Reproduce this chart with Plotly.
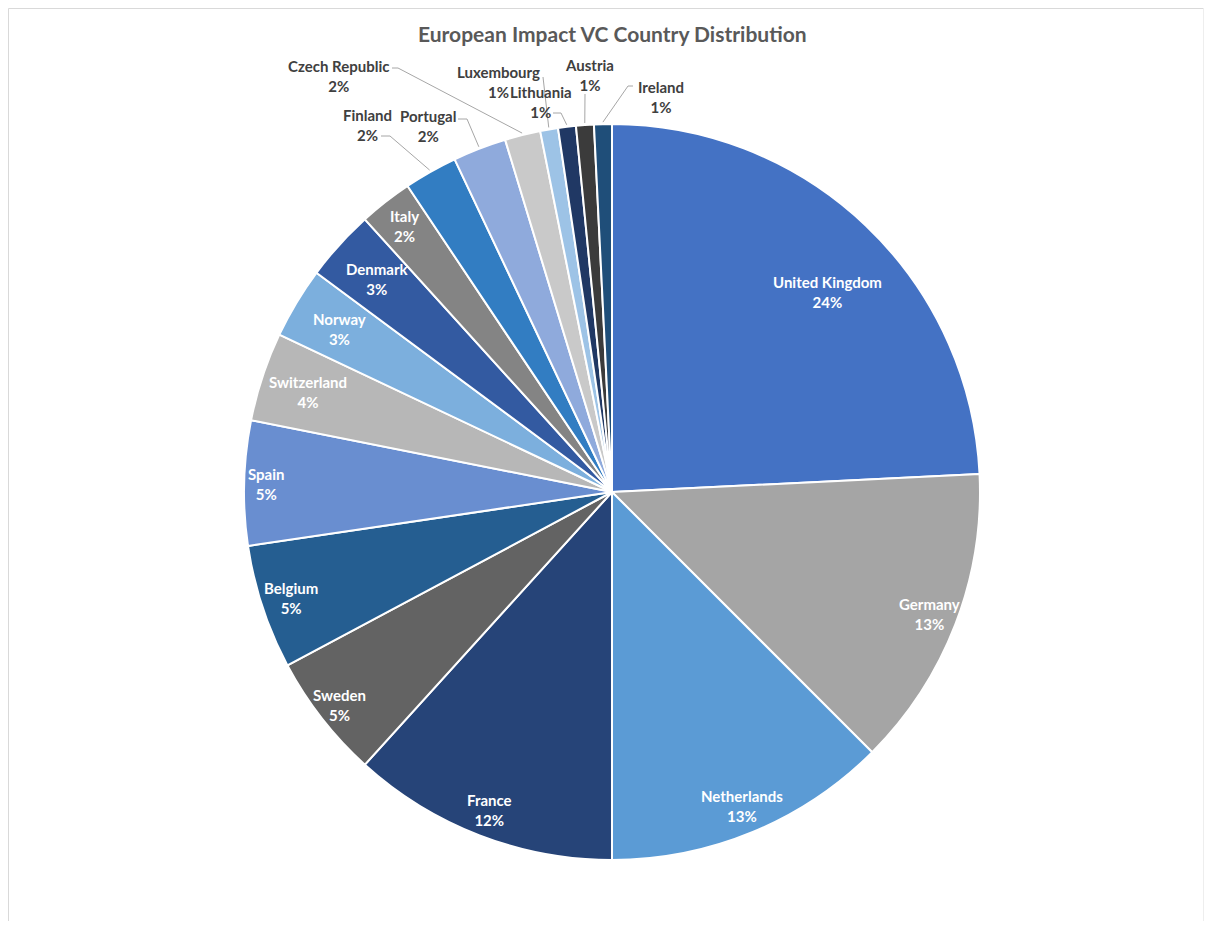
import math
import plotly.graph_objects as go

# ---- data ----
countries = ["United Kingdom", "Germany", "Netherlands", "France", "Sweden", "Belgium",
             "Spain", "Switzerland", "Norway", "Denmark", "Italy", "Finland", "Portugal",
             "Czech Republic", "Luxembourg", "Lithuania", "Austria", "Ireland"]
counts = [31, 17, 16, 15, 7, 7, 7, 5, 4, 4, 3, 3, 3, 2, 1, 1, 1, 1]
colors = ["#4472C4", "#A5A5A5", "#5B9BD5", "#264478", "#636363", "#255E91",
          "#698ED0", "#B7B7B7", "#7CAFDD", "#335AA1", "#848484", "#327DC2",
          "#8FAADC", "#C9C9C9", "#9DC3E6", "#203864", "#3B3B3B", "#1F4E79"]
title = "European Impact VC Country Distribution"

# ---- layout constants (page pixels) ----
OFF = 8                      # browser body margin
W, H = 1196, 913             # figure size
CX, CY, R = 612, 492, 368    # pie centre / radius in page pixels

# inside labels: radial fraction & angle nudge (deg) per slice (None = outside label)
inside_r = [0.80, 0.924, 0.924, 0.927, 0.94, 0.92, 0.94, 0.87, 0.864, 0.861, 0.918,
            None, None, None, None, None, None, None]
inside_nudge = [3.5, 0, 0, 0, 0, 0, 0, 0, 0, 0, 0, 0, 0, 0, 0, 0, 0, 0]
# outside labels: label block centre and leader start/elbow points (page pixels)
outside = {
    "Finland": dict(c=(367, 125), path=[(381, 136), (390, 136)]),
    "Portugal": dict(c=(428, 126), path=[(458, 119), (467, 119)]),
    "Czech Republic": dict(c=(338, 76), path=[(392, 68), (398, 68)]),
    "Luxembourg": dict(c=(498, 82), path=[(543, 77)]),
    "Lithuania": dict(c=(541, 102), path=[(553, 113), (561, 113)]),
    "Austria": dict(c=(589, 75), path=[(585, 94)]),
    "Ireland": dict(c=(661, 97), path=[(633, 86), (628, 86)]),
}

def px(x):
    return (x - OFF) / W

def py(y):
    return 1 - (y - OFF) / H

total = sum(counts)
pcts = [f"{int(c / total * 100 + 0.5)}%" for c in counts]

fig = go.Figure(go.Pie(
    labels=countries, values=counts, sort=False, direction="clockwise", rotation=0,
    marker=dict(colors=colors, line=dict(color="white", width=2)),
    textinfo="none", showlegend=False,
    domain=dict(x=[px(CX - R), px(CX + R)], y=[py(CY + R), py(CY - R)]),
))

annotations = [dict(text=title, x=px(CX), y=py(34), xref="paper", yref="paper",
                    xanchor="center", yanchor="middle", showarrow=False,
                    font=dict(family="Lato", size=21, color="#595959", weight="bold"))]
border = "#D9D9D9"
shapes = [
    dict(type="line", xref="paper", yref="paper", x0=px(8.5), y0=py(8.5), x1=px(8.5), y1=py(929),
         line=dict(color=border, width=1)),
    dict(type="line", xref="paper", yref="paper", x0=px(8.5), y0=py(8.5), x1=px(1203.5), y1=py(8.5),
         line=dict(color=border, width=1)),
    dict(type="line", xref="paper", yref="paper", x0=px(1203.5), y0=py(8.5), x1=px(1203.5), y1=py(929),
         line=dict(color="#EEEEEE", width=1)),
]

cum = 0
for i, (name, c) in enumerate(zip(countries, counts)):
    mid = (cum + c / 2) / total * 360
    cum += c
    if inside_r[i] is not None:
        a = math.radians(mid + inside_nudge[i])
        r = inside_r[i] * R
        x = CX + r * math.sin(a)
        y = CY - r * math.cos(a)
        annotations.append(dict(text=f"{name}<br>{pcts[i]}", x=px(x), y=py(y), xref="paper", yref="paper",
                                xanchor="center", yanchor="middle", showarrow=False, align="center",
                                font=dict(family="Lato", size=15, color="white", weight="bold")))
    else:
        o = outside[name]
        annotations.append(dict(text=f"{name}<br>{pcts[i]}", x=px(o["c"][0]), y=py(o["c"][1]),
                                xref="paper", yref="paper", xanchor="center", yanchor="middle",
                                showarrow=False, align="center",
                                font=dict(family="Lato", size=15, color="#404040", weight="bold")))
        a = math.radians(mid)
        ex = CX + (R + 2) * math.sin(a)
        ey = CY - (R + 2) * math.cos(a)
        pts = o["path"] + [(ex, ey)]
        d = "M " + " L ".join(f"{px(p[0])},{py(p[1])}" for p in pts)
        shapes.append(dict(type="path", xref="paper", yref="paper", path=d,
                           line=dict(color="#A6A6A6", width=1)))

fig.update_layout(width=W, height=H, margin=dict(l=0, r=0, t=0, b=0),
                  paper_bgcolor="white", plot_bgcolor="white",
                  annotations=annotations, shapes=shapes)
fig.write_html("out.html")
